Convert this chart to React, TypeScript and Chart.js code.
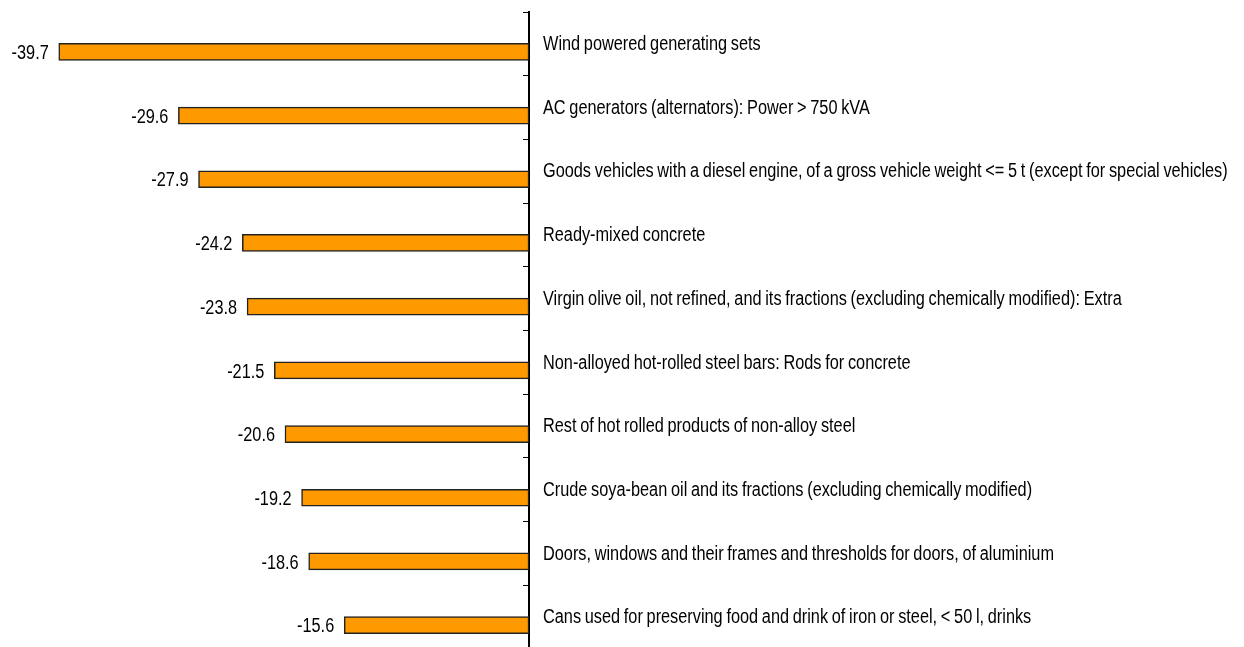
import React, { useEffect, useRef } from "react";
import { Chart, registerables } from "chart.js";

Chart.register(...registerables);

const categories: string[] = [
  "Wind powered generating sets",
  "AC generators (alternators): Power > 750 kVA",
  "Goods vehicles with a diesel engine, of a gross vehicle weight <= 5 t (except for special vehicles)",
  "Ready-mixed concrete",
  "Virgin olive oil, not refined, and its fractions (excluding chemically modified): Extra",
  "Non-alloyed hot-rolled steel bars: Rods for concrete",
  "Rest of hot rolled products of non-alloy steel",
  "Crude soya-bean oil and its fractions (excluding chemically modified)",
  "Doors, windows and their frames and thresholds for doors, of aluminium",
  "Cans used for preserving food and drink of iron or steel, < 50 l, drinks",
];

const changes: number[] = [-39.7, -29.6, -27.9, -24.2, -23.8, -21.5, -20.6, -19.2, -18.6, -15.6];

const FONT_SIZE = 20;
const FONT = `${FONT_SIZE}px 'Liberation Sans', Arial, sans-serif`;
const NARROW = 0.815; // horizontal squeeze for a narrow face
const HALF_CAP = 0.358 * FONT_SIZE; // centres capitals/digits on a given y
const BAR_SHIFT = 8; // bars sit a little below the category centre
const LABEL_AXIS_WIDTH = 707;
const LABEL_GAP = 14;

function narrowText(ctx: CanvasRenderingContext2D, text: string, x: number, y: number, align: "left" | "right") {
  ctx.save();
  ctx.translate(x, y + HALF_CAP);
  ctx.scale(NARROW, 1);
  ctx.textAlign = align;
  ctx.textBaseline = "alphabetic";
  ctx.fillText(text, 0, 0);
  ctx.restore();
}

const labelPlugin = {
  id: "narrowLabels",
  beforeDatasetsDraw(chart: any) {
    chart.ctx.save();
    chart.ctx.translate(0, BAR_SHIFT);
  },
  afterDatasetsDraw(chart: any) {
    const ctx: any = chart.ctx;
    ctx.restore();
    ctx.save();
    ctx.font = FONT;
    ctx.fillStyle = "#000";
    if ("wordSpacing" in ctx) ctx.wordSpacing = "-1px";

    // value labels at the end of each bar
    const meta = chart.getDatasetMeta(0);
    meta.data.forEach((bar: any, i: number) => {
      const v = chart.data.datasets[0].data[i] as number;
      narrowText(ctx, v.toFixed(1), bar.x - 10, bar.y + BAR_SHIFT, "right");
    });

    // category names to the right of the axis
    const yScale = chart.scales.y;
    const x0 = yScale.left + LABEL_GAP;
    (chart.data.labels as string[]).forEach((label, i) => {
      narrowText(ctx, label, x0, yScale.getPixelForTick(i) - 1, "left");
    });
    ctx.restore();
  },
};

export default function App() {
  const canvasRef = useRef<HTMLCanvasElement | null>(null);

  useEffect(() => {
    if (!canvasRef.current) return;
    const chart = new Chart(canvasRef.current, {
      type: "bar",
      data: {
        labels: categories,
        datasets: [
          {
            data: changes,
            backgroundColor: "#FF9900",
            borderColor: "#222",
            borderWidth: 1.5,
            borderSkipped: false,
            barThickness: 17,
          },
        ],
      },
      options: {
        indexAxis: "y",
        animation: false,
        responsive: true,
        maintainAspectRatio: false,
        layout: { padding: { top: 4, left: 47.2, right: 0, bottom: 0 } },
        plugins: {
          legend: { display: false },
          tooltip: { enabled: false },
        },
        scales: {
          x: {
            display: false,
            min: -40,
            max: 0,
          },
          y: {
            position: "right",
            offset: true,
            grid: {
              drawOnChartArea: false,
              drawTicks: true,
              tickLength: -6,
              color: "#000",
              lineWidth: 1,
              offset: true,
            },
            border: { display: true, color: "#000", width: 2 },
            ticks: { display: false, autoSkip: false },
            afterFit(scale: any) {
              scale.width = LABEL_AXIS_WIDTH;
              scale.paddingTop = 0;
              scale.paddingBottom = 0;
            },
          },
        },
      },
      plugins: [labelPlugin],
    });
    return () => chart.destroy();
  }, []);

  return (
    <div style={{ position: "fixed", left: 8, top: 8, width: 1228, height: 641, background: "#fff" }}>
      <canvas ref={canvasRef} />
    </div>
  );
}
